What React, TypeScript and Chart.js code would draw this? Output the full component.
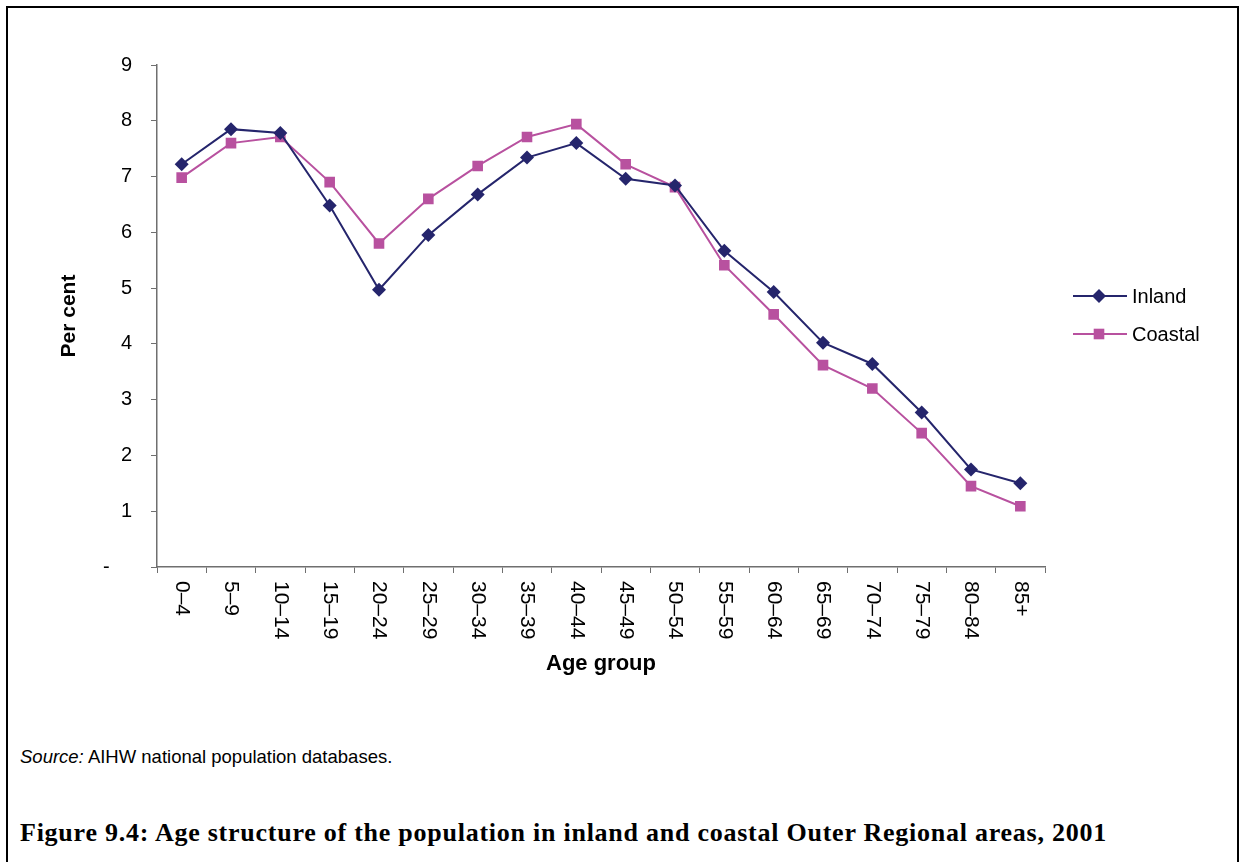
import React, { useEffect, useRef } from 'react';
import { Chart, registerables } from 'chart.js';

Chart.register(...registerables);

const ageGroups = ['0–4', '5–9', '10–14', '15–19', '20–24', '25–29', '30–34', '35–39', '40–44', '45–49', '50–54', '55–59', '60–64', '65–69', '70–74', '75–79', '80–84', '85+'];
const inland = [7.22, 7.85, 7.78, 6.48, 4.97, 5.95, 6.68, 7.34, 7.6, 6.96, 6.84, 5.67, 4.93, 4.02, 3.64, 2.77, 1.75, 1.5];
const coastal = [6.98, 7.6, 7.71, 6.9, 5.8, 6.6, 7.19, 7.71, 7.94, 7.22, 6.81, 5.41, 4.53, 3.62, 3.2, 2.4, 1.45, 1.09];
const seriesNames = ['Inland', 'Coastal'];
const yMin = 0;
const yMax = 9;
const yStep = 1;
const zeroLabel = '-    ';
const xTitle = 'Age group';
const yTitle = 'Per cent';
const sourceLabel = 'Source:';
const sourceText = ' AIHW national population databases.';
const caption = 'Figure 9.4: Age structure of the population in inland and coastal Outer Regional areas, 2001';

const INLAND_COLOR = '#25256C';
const COASTAL_COLOR = '#B8519F';
const FONT = '"Liberation Sans", Arial, sans-serif';
const CANVAS_W = 1240;
const CANVAS_H = 700;

const markerStyles = ['rectRot', 'rect'];
const markerRadius = [7, 7.5];
const colors = [INLAND_COLOR, COASTAL_COLOR];

function drawMarker(ctx: CanvasRenderingContext2D, style: string, x: number, y: number, r: number, color: string) {
  ctx.save();
  ctx.fillStyle = color;
  ctx.beginPath();
  if (style === 'rectRot') {
    ctx.moveTo(x, y - r);
    ctx.lineTo(x + r, y);
    ctx.lineTo(x, y + r);
    ctx.lineTo(x - r, y);
    ctx.closePath();
  } else {
    const s = r * Math.SQRT1_2;
    ctx.rect(x - s, y - s, 2 * s, 2 * s);
  }
  ctx.fill();
  ctx.restore();
}

const customPlugin = {
  id: 'customDraw',
  afterDraw(chart: any) {
    const ctx: CanvasRenderingContext2D = chart.ctx;
    const xs = chart.scales.x;
    ctx.save();
    ctx.fillStyle = '#000';
    ctx.font = `21px ${FONT}`;
    ctx.textAlign = 'left';
    ctx.textBaseline = 'middle';
    ageGroups.forEach((lab, i) => {
      const x = xs.getPixelForTick(i);
      ctx.save();
      ctx.translate(x, xs.top + 14);
      ctx.rotate(Math.PI / 2);
      ctx.fillText(lab, 0, 0);
      ctx.restore();
    });
    // legend
    const legendY = [296, 334];
    seriesNames.forEach((name, i) => {
      const y = legendY[i];
      ctx.strokeStyle = colors[i];
      ctx.lineWidth = 2;
      ctx.beginPath();
      ctx.moveTo(1073, y);
      ctx.lineTo(1127, y);
      ctx.stroke();
      drawMarker(ctx, markerStyles[i], 1099, y, markerRadius[i], colors[i]);
      ctx.fillStyle = '#000';
      ctx.font = `20px ${FONT}`;
      ctx.textAlign = 'left';
      ctx.textBaseline = 'middle';
      ctx.fillText(name, 1132, y + 1);
    });
    ctx.restore();
  },
};

export default function App() {
  const canvasRef = useRef<HTMLCanvasElement | null>(null);

  useEffect(() => {
    if (!canvasRef.current) return;
    const chart = new Chart(canvasRef.current, {
      type: 'line',
      data: {
        labels: ageGroups,
        datasets: [
          {
            label: seriesNames[0],
            data: inland,
            borderColor: INLAND_COLOR,
            backgroundColor: INLAND_COLOR,
            borderWidth: 2,
            pointStyle: 'rectRot',
            pointRadius: markerRadius[0],
            pointBorderWidth: 0,
            pointBackgroundColor: INLAND_COLOR,
            tension: 0,
          },
          {
            label: seriesNames[1],
            data: coastal,
            borderColor: COASTAL_COLOR,
            backgroundColor: COASTAL_COLOR,
            borderWidth: 2,
            pointStyle: 'rect',
            pointRadius: markerRadius[1],
            pointBorderWidth: 0,
            pointBackgroundColor: COASTAL_COLOR,
            tension: 0,
          },
        ],
      },
      options: {
        responsive: false,
        animation: false,
        events: [],
        layout: { padding: { top: 65, right: 195, left: 0, bottom: 0 } },
        plugins: {
          legend: { display: false },
          tooltip: { enabled: false },
        },
        scales: {
          x: {
            type: 'category',
            offset: true,
            grid: { offset: true, drawOnChartArea: false, drawTicks: true, tickLength: 6, color: '#6f6f6f' },
            border: { color: '#6f6f6f', width: 1.5 },
            ticks: { display: false },
            title: {
              display: true,
              text: xTitle,
              color: '#000',
              font: { family: FONT, size: 22, weight: 'bold' },
              padding: { top: 0, bottom: 23 },
            },
            afterFit: (scale: any) => {
              scale.height = CANVAS_H - 567;
            },
          },
          y: {
            min: yMin,
            max: yMax,
            grid: { drawOnChartArea: false, drawTicks: true, tickLength: 6, color: '#6f6f6f' },
            border: { color: '#6f6f6f', width: 1.5 },
            ticks: {
              stepSize: yStep,
              color: '#000',
              padding: 19,
              font: { family: FONT, size: 20 },
              callback: (v: any) => (Number(v) === 0 ? zeroLabel : String(v)),
            },
            title: {
              display: true,
              text: yTitle,
              color: '#000',
              font: { family: FONT, size: 21, weight: 'bold' },
              padding: { top: 57, bottom: 0 },
            },
            afterFit: (scale: any) => {
              scale.width = 157;
            },
          },
        },
      },
      plugins: [customPlugin],
    });
    return () => chart.destroy();
  }, []);

  return (
    <div style={{ position: 'absolute', left: 0, top: 0, width: 1240, height: 862, overflow: 'hidden', background: '#fff' }}>
      <div
        style={{
          position: 'absolute',
          left: 6,
          top: 6,
          width: 1233,
          height: 900,
          border: '2px solid #000',
          boxSizing: 'border-box',
        }}
      />
      <canvas
        ref={canvasRef}
        width={CANVAS_W}
        height={CANVAS_H}
        style={{ position: 'absolute', left: 0, top: 0, width: CANVAS_W, height: CANVAS_H }}
      />
      <div
        style={{
          position: 'absolute',
          left: 20,
          top: 745,
          fontFamily: FONT,
          fontSize: 18.5,
          lineHeight: '24px',
          color: '#000',
          whiteSpace: 'nowrap',
        }}
      >
        <i>{sourceLabel}</i>
        {sourceText}
      </div>
      <div
        style={{
          position: 'absolute',
          left: 20,
          top: 817,
          fontFamily: '"Liberation Serif", "Times New Roman", serif',
          fontWeight: 'bold',
          fontSize: 26,
          letterSpacing: 0.75,
          lineHeight: '32px',
          color: '#000',
          whiteSpace: 'nowrap',
        }}
      >
        {caption}
      </div>
    </div>
  );
}
